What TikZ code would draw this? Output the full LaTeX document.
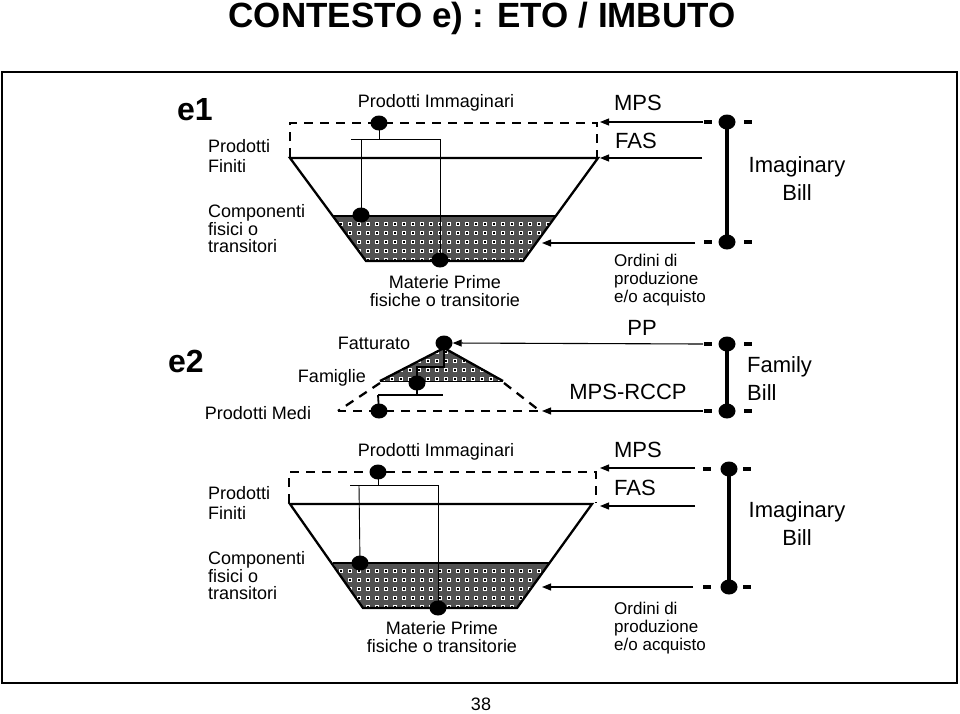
\documentclass[tikz,border=0pt]{standalone}
\usepackage{fontspec}
\setmainfont{Liberation Sans}
\usetikzlibrary{arrows.meta,shapes.geometric}
\tikzset{
  lbl/.style={font=\fontsize{18}{20}\selectfont, inner sep=0pt, align=left},
  lblc/.style={font=\fontsize{18}{18.5}\selectfont, inner sep=0pt, align=center},
  big/.style={font=\fontsize{22}{28}\selectfont, inner sep=0pt, align=left},
  ebold/.style={font=\fontsize{32}{34}\selectfont\bfseries, inner sep=0pt},
  bul/.style={ellipse, fill=black, minimum width=17pt, minimum height=15pt, inner sep=0pt},
  outline/.style={line width=2.3pt, line join=miter},
  dsh/.style={line width=2.3pt, dash pattern=on 9pt off 7pt},
  tree/.style={line width=0.9pt},
  treeb/.style={line width=1.8pt},
  arr/.style={line width=1.1pt, -{Triangle[length=9pt,width=7pt]}},
  tdash/.style={line width=4pt},
  bar/.style={line width=4pt},
  shadefill/.style={fill=black!68},
}
\begin{document}
\begin{tikzpicture}[x=1pt,y=-1pt]
\useasboundingbox (0,0) rectangle (960,713);
\fill[white] (0,0) rectangle (960,713);

% title and frame
\node[font=\fontsize{35}{38}\selectfont\bfseries, inner sep=0pt, anchor=base] (title) at (482,27) {CONTESTO e) : ETO / IMBUTO};
\draw[line width=2pt] (2,72) rectangle (957,683);
\node[lbl, anchor=base] (page) at (481,710) {38};

% ================= e1 funnel =================
\begin{scope}
\clip (333,216) -- (556,216) -- (523,261) -- (366,261) -- cycle;
\fill[shadefill] (330,205) rectangle (560,265);
\foreach \i in {0,...,25}{\foreach \j in {-1,...,4}{
  \fill[white] ({341+9*\i-2},{224+9*\j-2}) rectangle ++(4,4);
  \fill[black] ({341+9*\i-1},{224+9*\j-1}) rectangle ++(2,2);
}}
\end{scope}
\draw[line width=1.6pt] (333,216) -- (556,216);
\draw[outline] (290,158) -- (598,158) -- (523,261) -- (366,261) -- cycle;
\draw[dsh] (290,157) -- (290,123) -- (597,123) -- (597,157);
\coordinate (a1top) at (600,122);
\coordinate (a1fas) at (600,158);
\coordinate (a1side) at (542,243);

\coordinate (t1) at (379,123);
\coordinate (m1) at (361,215);
\coordinate (b1) at (440,260);
\draw[tree] (t1) -- (379,139);
\draw[tree] (351,139) -- (440,139);
\draw[tree] (361,139) -- (m1);
\draw[tree] (440,139) -- (b1);
\node[bul] (t1n) at (t1) {};
\node[bul] (m1n) at (m1) {};
\node[bul] (b1n) at (b1) {};

\node[lblc] (pi1) at (436,103) {Prodotti Immaginari};
\node[lblc] (mp1) at (445,291) {Materie Prime\\fisiche o transitorie};

% ================= e2 triangle =================
\begin{scope}
\clip (444,348) -- (503,381) -- (380,381) -- cycle;
\fill[shadefill] (375,340) rectangle (510,385);
\foreach \i in {0,...,14}{\foreach \j in {-1,...,4}{
  \fill[white] ({383+9*\i-2},{352+9*\j-2}) rectangle ++(4,4);
  \fill[black] ({383+9*\i-1},{352+9*\j-1}) rectangle ++(2,2);
}}
\end{scope}
\draw[outline] (380,381) -- (444,348) -- (503,381);
\draw[line width=1pt] (380,381) -- (503,381);
\draw[dsh] (380,383) -- (338,411);
\draw[dsh] (538,411) -- (338,411);
\draw[dsh] (504,383) -- (540,411);
\coordinate (rccp) at (542,411);

\coordinate (fat) at (444,343);
\coordinate (fam) at (417,383);
\coordinate (med) at (379,411);
\draw[treeb] (fat) -- (444,367) -- (417,367) -- (fam);
\draw[treeb] (fam) -- (417,395);
\draw[treeb] (378,395) -- (443,395);
\draw[treeb] (378,395) -- (med);
\node[bul] (fatn) at (fat) {};
\node[bul] (famn) at (fam) {};
\node[bul] (medn) at (med) {};

\node[lbl] (fatl) at (374,343) {Fatturato};
\node[lbl] (faml) at (332,378) {Famiglie};
\node[lbl] (medl) at (258,413) {Prodotti Medi};

% ================= e3 funnel (bottom) =================
\begin{scope}
\clip (333,563) -- (549,563) -- (517,608) -- (363,608) -- cycle;
\fill[shadefill] (330,555) rectangle (560,612);
\foreach \i in {0,...,25}{\foreach \j in {-1,...,4}{
  \fill[white] ({341+9*\i-2},{571+9*\j-2}) rectangle ++(4,4);
  \fill[black] ({341+9*\i-1},{571+9*\j-1}) rectangle ++(2,2);
}}
\end{scope}
\draw[line width=1.6pt] (333,563) -- (549,563);
\draw[outline] (290,504) -- (592,504) -- (517,608) -- (363,608) -- cycle;
\draw[dsh] (289,503) -- (289,472) -- (596,472) -- (596,503);

\coordinate (t3) at (378,472);
\coordinate (m3) at (360,563);
\coordinate (b3) at (438,608);
\draw[tree] (t3) -- (378,485);
\draw[tree] (350,485) -- (438,485);
\draw[tree] (359,485) -- (m3);
\draw[tree] (438,485) -- (b3);
\node[bul] (t3n) at (t3) {};
\node[bul] (m3n) at (m3) {};
\node[bul] (b3n) at (b3) {};

\node[lblc] (pi3) at (436,452) {Prodotti Immaginari};
\node[lblc] (mp3) at (442,637) {Materie Prime\\fisiche o transitorie};

% ================= left labels =================
\node[ebold] (e1) at (195,110) {e1};
\node[ebold] (e2) at (186,361) {e2};
\node[lbl, anchor=west] (pf1) at (208,156) {Prodotti\\Finiti};
\node[lbl, anchor=west, font=\fontsize{18}{17.5}\selectfont] (cf1) at (208,229) {Componenti\\fisici o\\transitori};
\node[lbl, anchor=west] (pf3) at (208,503) {Prodotti\\Finiti};
\node[lbl, anchor=west, font=\fontsize{18}{17.5}\selectfont] (cf3) at (208,576) {Componenti\\fisici o\\transitori};

% ================= right: e1 =================
\node[big] (mps1) at (638,103) {MPS};
\node[big] (fas1) at (636,141) {FAS};
\node[lbl, anchor=west, font=\fontsize{17}{18}\selectfont] (ord1) at (614,280) {Ordini di\\produzione\\e/o acquisto};
\coordinate (r1a) at (703,122);
\coordinate (r1b) at (702,158);
\coordinate (r1c) at (695,243);
\draw[arr] (r1a) -- (a1top);
\draw[arr] (r1b) -- (a1fas);
\draw[arr] (r1c) -- (a1side);
\coordinate (ib1t) at (727,122);
\coordinate (ib1b) at (727,242);
\draw[bar] (ib1t) -- (ib1b);
\foreach \yy in {122,242}{
  \draw[tdash] (704,\yy) -- (712,\yy);
  \draw[tdash] (744,\yy) -- (752,\yy);
}
\node[bul] (ib1tn) at (ib1t) {};
\node[bul] (ib1bn) at (ib1b) {};
\node[big, align=center] (ibl1) at (797,179) {Imaginary\\Bill};

% ================= right: e2 =================
\node[big] (pp) at (642,328) {PP};
\node[big] (rccpl) at (628,392) {MPS-RCCP};
\coordinate (r2a) at (703,344);
\coordinate (r2b) at (703,411);
\draw[arr] (r2a) -- (fatn.east);
\draw[arr] (r2b) -- (rccp);
\coordinate (fb2t) at (727,344);
\coordinate (fb2b) at (727,411);
\draw[bar] (fb2t) -- (fb2b);
\foreach \yy in {344,411}{
  \draw[tdash] (704,\yy) -- (712,\yy);
  \draw[tdash] (744,\yy) -- (752,\yy);
}
\node[bul] (fb2tn) at (fb2t) {};
\node[bul] (fb2bn) at (fb2b) {};
\node[big, anchor=west] (fbl) at (747,379) {Family\\Bill};

% ================= right: e3 =================
\node[big] (mps3) at (638,450) {MPS};
\node[big] (fas3) at (635,488) {FAS};
\node[lbl, anchor=west, font=\fontsize{17}{18}\selectfont] (ord3) at (614,628) {Ordini di\\produzione\\e/o acquisto};
\coordinate (r3a) at (695,468);
\coordinate (r3b) at (695,506);
\coordinate (r3c) at (693,587);
\draw[arr] (r3a) -- (600,468);
\draw[arr] (r3b) -- (600,506);
\draw[arr] (r3c) -- (542,587);
\coordinate (ib3t) at (729,469);
\coordinate (ib3b) at (729,587);
\draw[bar] (ib3t) -- (ib3b);
\foreach \yy in {469,587}{
  \draw[tdash] (703,\yy) -- (711,\yy);
  \draw[tdash] (743,\yy) -- (751,\yy);
}
\node[bul] (ib3tn) at (ib3t) {};
\node[bul] (ib3bn) at (ib3b) {};
\node[big, align=center] (ibl3) at (797,524) {Imaginary\\Bill};
\end{tikzpicture}
\end{document}
